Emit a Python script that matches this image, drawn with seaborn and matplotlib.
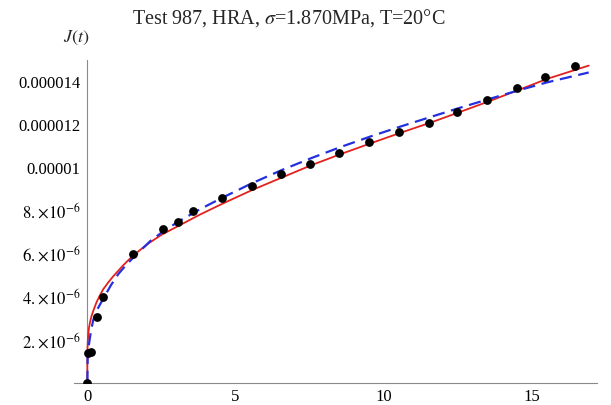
import numpy as np
import pandas as pd
import matplotlib
matplotlib.use("Agg")
import matplotlib.pyplot as plt
import seaborn as sns
from matplotlib.ticker import FixedLocator, FixedFormatter, MultipleLocator

# ---- data ----
time_data = [0, 0.02, 0.12, 0.33, 0.52, 1.55, 2.55, 3.05, 3.56, 4.55, 5.55, 6.55,
             7.53, 8.5, 9.5, 10.51, 11.53, 12.49, 13.5, 14.49, 15.46, 16.46]
J_data_e6 = [0, 1.38, 1.46, 3.08, 3.98, 6.0, 7.16, 7.5, 7.97, 8.57, 9.17, 9.69,
             10.15, 10.68, 11.19, 11.67, 12.08, 12.59, 13.16, 13.68, 14.2, 14.74]

red_t = [0, 0, 0.01, 0.03, 0.06, 0.1, 0.14, 0.2, 0.31, 0.42, 0.53, 0.7, 0.87, 1.05,
         1.2, 1.38, 1.55, 1.8, 2.05, 2.5, 3.08, 3.8, 4.55, 5.56, 6.58, 7.57, 8.55,
         9.56, 10.57, 11.6, 12.5, 13.49, 14.5, 15.51, 16.92]
red_J_e6 = [0, 1.3, 1.8, 2.25, 2.6, 2.88, 3.1, 3.35, 3.75, 4.06, 4.34, 4.66, 4.95, 5.22,
            5.45, 5.7, 5.92, 6.2, 6.47, 6.88, 7.3, 7.82, 8.32, 8.96, 9.55, 10.12, 10.63,
            11.13, 11.62, 12.1, 12.55, 13.05, 13.58, 14.12, 14.74]

blue_t = [0, 0.01, 0.05, 0.12, 0.2, 0.33, 0.53, 0.8, 1.04, 1.3, 1.57, 2.13, 2.6, 3.08,
          3.8, 4.55, 5.56, 6.58, 7.57, 8.55, 9.56, 10.57, 11.6, 12.5, 13.49, 14.5,
          15.51, 16.92]
blue_J_e6 = [0, 1.1, 1.75, 2.4, 2.93, 3.4, 3.9, 4.55, 5.05, 5.47, 5.85, 6.6, 7.08, 7.5,
             8.07, 8.6, 9.28, 9.9, 10.45, 10.96, 11.45, 11.91, 12.36, 12.75, 13.16, 13.57,
             13.96, 14.42]

y_tick_values_e6 = [2, 4, 6, 8, 10, 12, 14]
y_tick_labels = [r"$2.\!\times\!10^{-6}$", r"$4.\!\times\!10^{-6}$", r"$6.\!\times\!10^{-6}$",
                 r"$8.\!\times\!10^{-6}$", "0.00001", "0.000012", "0.000014"]
x_tick_values = [0, 5, 10, 15]

title_text = r"Test 987, HRA, $\sigma$=1.870MPa, T=20°C"
ylabel_text = r"$J(t)$"

scale = 1e-6
pts = pd.DataFrame({"t": time_data, "J": np.array(J_data_e6) * scale})
red = pd.DataFrame({"t": red_t, "J": np.array(red_J_e6) * scale})
blue = pd.DataFrame({"t": blue_t, "J": np.array(blue_J_e6) * scale})

# ---- style ----
sns.set_style("white")
plt.rcParams["font.family"] = ["Liberation Serif", "DejaVu Serif"]
plt.rcParams["mathtext.fontset"] = "stix"

fig = plt.figure(figsize=(6.11, 4.05), dpi=100)
ax = fig.add_axes([74 / 611, 1 - 383 / 405, (597 - 74) / 611, (383 - 60) / 405])

sns.lineplot(data=red, x="t", y="J", ax=ax, color="#e3211c", linewidth=1.3,
             sort=False, estimator=None, zorder=3)
sns.lineplot(data=blue, x="t", y="J", ax=ax, color="#2430e0", linewidth=1.6,
             sort=False, estimator=None, zorder=4)
ax.lines[-1].set_dashes([5.5, 3.0])
sns.scatterplot(data=pts, x="t", y="J", ax=ax, color="black", s=40,
                edgecolor="black", linewidth=0, zorder=5)

ax.set_xlim(-0.45, 17.2)
ax.set_ylim(0, 15.0e-6)

for s in ["top", "right"]:
    ax.spines[s].set_visible(False)
ax.spines["left"].set_position(("data", 0))
ax.spines["bottom"].set_position(("data", 0))
for s in ["left", "bottom"]:
    ax.spines[s].set_color("#8a8a8a")
    ax.spines[s].set_linewidth(0.8)

ax.xaxis.set_major_locator(FixedLocator(x_tick_values))
ax.xaxis.set_major_formatter(FixedFormatter([str(v) for v in x_tick_values]))
ax.xaxis.set_minor_locator(MultipleLocator(1))
ax.yaxis.set_major_locator(FixedLocator([v * scale for v in y_tick_values_e6]))
ax.yaxis.set_major_formatter(FixedFormatter(y_tick_labels))
ax.yaxis.set_minor_locator(MultipleLocator(0.4e-6))

ax.tick_params(which="both", direction="in", color="#8a8a8a", width=0.8,
               labelsize=12, labelcolor="black")
ax.tick_params(which="major", length=5)
ax.tick_params(which="minor", length=3)
ax.tick_params(axis="y", pad=5)
ax.tick_params(axis="x", pad=4)

ax.set_xlabel("")
ax.set_ylabel("")

fig.text(289 / 611, 1 - 23.5 / 405, title_text, ha="center", va="baseline", fontsize=14.5)
fig.text(63 / 611, 1 - 42 / 405, ylabel_text, ha="left", va="baseline", fontsize=13)

fig.savefig("out.png", dpi=100, facecolor="white")
